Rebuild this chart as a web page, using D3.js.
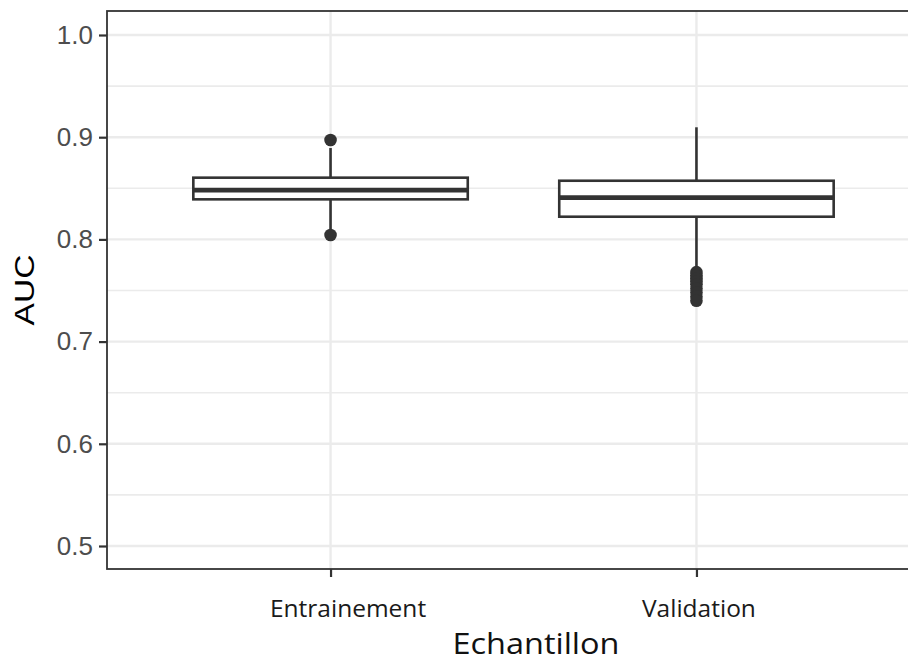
<!DOCTYPE html>
<html>
<head>
<meta charset="utf-8">
<script src="https://cdn.jsdelivr.net/npm/d3@7"></script>
<style>
  html, body { margin: 0; padding: 0; background: #fff; overflow: hidden; }
  svg { display: block; }
</style>
</head>
<body>
<svg id="chart" width="908" height="663"></svg>
<script>
// ---- Data ----
const categories = ["Entrainement", "Validation"];
const q1 = [0.8392, 0.8222];
const median = [0.8483, 0.8408];
const q3 = [0.8604, 0.8574];
const whiskerLow = [0.809, 0.771];
const whiskerHigh = [0.8894, 0.9097];
const outliersEntrainement = [0.8973, 0.8043];
const outliersValidation = [0.768, 0.765, 0.762, 0.759, 0.756, 0.752, 0.748, 0.744, 0.740];
const yTicks = [0.5, 0.6, 0.7, 0.8, 0.9, 1.0];
const yMinorTicks = [0.55, 0.65, 0.75, 0.85, 0.95];
const yLabel = "AUC";
const xLabel = "Echantillon";

const outliers = [outliersEntrainement, outliersValidation];

// ---- Layout ----
const svg = d3.select("#chart");
const panel = { left: 107, top: 11, right: 940, bottom: 569 };

const y = d3.scaleLinear().domain([0.5, 1.0]).range([546, 35]);
const x = d3.scalePoint().domain(categories).range([111, 916]).padding(0.6);
const boxW = x.step() * 0.75;

const ink = "#333333";
const grid = "#ebebeb";

// minor grid
svg.append("g").selectAll("line").data(yMinorTicks).join("line")
  .attr("x1", panel.left).attr("x2", panel.right)
  .attr("y1", d => y(d)).attr("y2", d => y(d))
  .attr("stroke", grid).attr("stroke-width", 1.6);

// major grid
svg.append("g").selectAll("line").data(yTicks).join("line")
  .attr("x1", panel.left).attr("x2", panel.right)
  .attr("y1", d => y(d)).attr("y2", d => y(d))
  .attr("stroke", grid).attr("stroke-width", 2.4);

svg.append("g").selectAll("line").data(categories).join("line")
  .attr("x1", d => x(d)).attr("x2", d => x(d))
  .attr("y1", panel.top).attr("y2", panel.bottom)
  .attr("stroke", grid).attr("stroke-width", 2.4);

// boxes
const g = svg.append("g");
categories.forEach((c, i) => {
  const cx = x(c);
  g.append("line").attr("x1", cx).attr("x2", cx)
    .attr("y1", y(q3[i])).attr("y2", y(whiskerHigh[i]))
    .attr("stroke", ink).attr("stroke-width", 2.6);
  g.append("line").attr("x1", cx).attr("x2", cx)
    .attr("y1", y(q1[i])).attr("y2", y(whiskerLow[i]))
    .attr("stroke", ink).attr("stroke-width", 2.6);
  g.append("rect")
    .attr("x", cx - boxW / 2).attr("width", boxW)
    .attr("y", y(q3[i])).attr("height", y(q1[i]) - y(q3[i]))
    .attr("fill", "#fff").attr("stroke", ink).attr("stroke-width", 2.6);
  g.append("line")
    .attr("x1", cx - boxW / 2).attr("x2", cx + boxW / 2)
    .attr("y1", y(median[i])).attr("y2", y(median[i]))
    .attr("stroke", ink).attr("stroke-width", 4.8);
  g.append("g").selectAll("circle").data(outliers[i]).join("circle")
    .attr("cx", cx).attr("cy", d => y(d)).attr("r", 6.3)
    .attr("fill", ink);
});

// panel border
svg.append("rect")
  .attr("x", panel.left).attr("y", panel.top)
  .attr("width", panel.right - panel.left).attr("height", panel.bottom - panel.top)
  .attr("fill", "none").attr("stroke", ink).attr("stroke-width", 1.8);

// y axis
const yAxis = d3.axisLeft(y).tickValues(yTicks).tickFormat(d3.format(".1f"))
  .tickSize(8).tickPadding(6);
const yg = svg.append("g").attr("transform", `translate(${panel.left},0)`).call(yAxis);
yg.select(".domain").remove();
yg.selectAll(".tick line").attr("stroke", ink).attr("stroke-width", 2.2);
yg.selectAll(".tick text")
  .attr("fill", "#4d4d4d")
  .style("font-family", "'Liberation Sans', Arial, sans-serif")
  .style("font-size", "26px");

// x axis
const xAxis = d3.axisBottom(x).tickSize(8).tickPadding(23);
const xg = svg.append("g").attr("transform", `translate(0,${panel.bottom})`).call(xAxis);
xg.select(".domain").remove();
xg.selectAll(".tick line").attr("stroke", ink).attr("stroke-width", 2.2);
xg.selectAll(".tick text")
  .attr("fill", "#1a1a1a")
  .attr("dx", (d, i) => i === 0 ? 17 : 2)
  .style("font-family", "'Open Sans', sans-serif")
  .style("font-size", "24.5px");

// axis titles
svg.append("text")
  .attr("transform", `translate(34,${y(0.7505)}) rotate(-90)`)
  .attr("text-anchor", "middle")
  .attr("fill", "#000")
  .attr("textLength", 71)
  .attr("lengthAdjust", "spacingAndGlyphs")
  .style("font-family", "'Liberation Sans', Arial, sans-serif")
  .style("font-size", "27px")
  .text(yLabel);

svg.append("text")
  .attr("x", 536).attr("y", 654)
  .attr("text-anchor", "middle")
  .attr("fill", "#111")
  .attr("textLength", 167)
  .attr("lengthAdjust", "spacingAndGlyphs")
  .style("font-family", "'Open Sans', sans-serif")
  .style("font-size", "30px")
  .text(xLabel);
</script>
</body>
</html>
